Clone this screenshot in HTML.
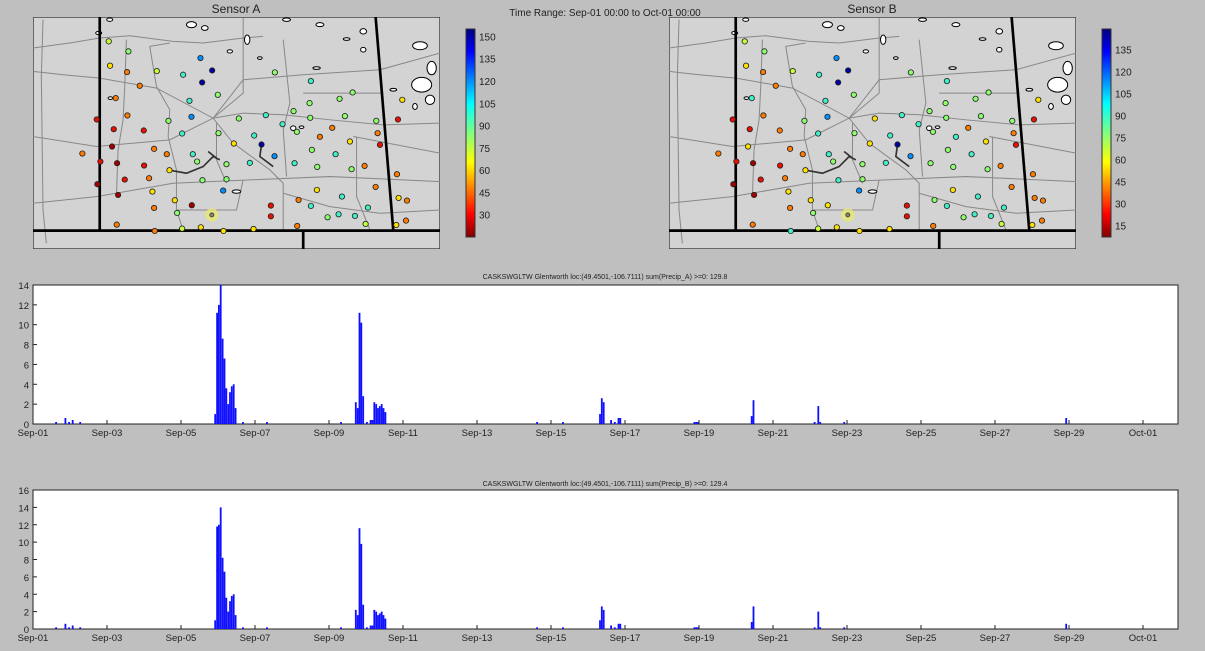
<!DOCTYPE html>
<html><head><meta charset="utf-8">
<style>
body{margin:0;background:#bfbfbf;width:1205px;height:651px;overflow:hidden;font-family:"Liberation Sans",sans-serif;}
svg{position:absolute;left:0;top:0}
</style></head><body>
<svg id="s" width="1205" height="651" xmlns="http://www.w3.org/2000/svg">
<defs>
<linearGradient id="jet" x1="0" y1="1" x2="0" y2="0">
<stop offset="0" stop-color="#800000"/><stop offset="0.11" stop-color="#ff0000"/><stop offset="0.36" stop-color="#ffff00"/><stop offset="0.5" stop-color="#80ff80"/><stop offset="0.64" stop-color="#00ffff"/><stop offset="0.89" stop-color="#0000ff"/><stop offset="1" stop-color="#000080"/>
</linearGradient>
</defs>
<text x="236" y="13" font-size="12" text-anchor="middle" fill="#222">Sensor A</text>
<text x="872" y="13" font-size="12" text-anchor="middle" fill="#222">Sensor B</text>
<text x="605" y="16" font-size="10" text-anchor="middle" fill="#222">Time Range: Sep-01 00:00 to Oct-01 00:00</text>
<text x="605" y="279" font-size="7" text-anchor="middle" fill="#222">CASKSWGLTW Glentworth loc:(49.4501,-106.7111) sum(Precip_A) &gt;=0: 129.8</text>
<text x="605" y="486" font-size="7" text-anchor="middle" fill="#222">CASKSWGLTW Glentworth loc:(49.4501,-106.7111) sum(Precip_B) &gt;=0: 129.4</text>
<g id="g"></g>
</svg>
<script>
var G=document.getElementById('g'),h='';
var C={yg:'#c8ff38',g:'#8cff6c',y:'#ffe000',o:'#ff7a00',r:'#e81000',dr:'#a00000',c:'#40f0c8',lb:'#0090ff',db:'#0000a0',gr:'#8a8a70'};
var dots=[[237,95,'yg'],[296,125,'g'],[241,168,'y'],[292,187,'o'],[381,184,'yg'],[460,195,'c'],[512,145,'lb'],[547,182,'db'],[517,218,'db'],[330,228,'o'],[258,265,'o'],[564,255,'g'],[479,273,'c'],[293,317,'o'],[201,329,'r'],[416,333,'g'],[485,321,'lb'],[627,326,'g'],[708,316,'c'],[735,188,'g'],[843,214,'c'],[968,248,'g'],[929,267,'g'],[839,280,'g'],[791,304,'g'],[841,324,'g'],[945,319,'g'],[1039,333,'g'],[1117,270,'y'],[1104,329,'r'],[252,358,'r'],[342,362,'r'],[457,371,'c'],[566,370,'g'],[673,377,'c'],[758,343,'c'],[801,366,'g'],[907,354,'o'],[870,381,'o'],[1043,370,'o'],[1050,405,'r'],[960,395,'y'],[612,401,'y'],[695,404,'db'],[734,439,'lb'],[247,410,'dr'],[373,417,'o'],[411,433,'o'],[489,433,'c'],[502,455,'g'],[590,463,'g'],[660,459,'c'],[794,460,'c'],[846,420,'g'],[917,433,'c'],[862,471,'g'],[965,478,'g'],[1004,468,'o'],[1101,493,'o'],[158,431,'o'],[212,455,'r'],[262,460,'dr'],[343,467,'r'],[419,481,'y'],[285,509,'r'],[358,505,'o'],[518,511,'g'],[590,508,'g'],[580,542,'lb'],[368,545,'y'],[203,523,'dr'],[265,555,'dr'],[435,571,'y'],[486,586,'dr'],[373,594,'o'],[442,609,'g'],[723,587,'r'],[723,619,'r'],[861,540,'y'],[936,560,'c'],[806,570,'o'],[843,588,'c'],[893,622,'g'],[926,613,'c'],[975,618,'c'],[1014,593,'c'],[1037,531,'o'],[1106,564,'y'],[1131,572,'o'],[1007,642,'yg'],[1099,645,'y'],[1128,632,'o'],[802,648,'o'],[261,644,'o'],[375,663,'o'],[457,656,'yg'],[513,652,'y'],[581,663,'y'],[671,657,'y']];
var roads=[[[10,115],[120,100],[210,85],[300,78],[430,95],[520,100],[640,85],[700,80]],[[10,185],[100,195],[210,205],[380,235],[550,325],[640,310],[760,315],[900,330],[1060,345],[1230,340]],[[10,380],[200,410],[420,390],[550,325],[640,210],[820,195],[1050,180],[1230,130]],[[10,580],[200,560],[430,520],[660,510],[900,500],[1230,515]],[[420,100],[360,110],[380,230],[420,300],[415,380],[440,480],[440,600],[460,660]],[[640,25],[640,250],[550,325],[610,400],[720,480],[760,520],[760,660]],[[760,90],[780,280],[760,360],[770,500]],[[290,90],[285,230],[280,330],[265,420],[260,560]],[[970,380],[1230,430]],[[440,600],[620,600],[640,510]],[[760,550],[900,590],[1050,610],[1230,600]],[[820,250],[1060,250]],[[40,30],[35,200],[40,600],[50,700]],[[980,380],[980,560],[1020,660]],[[560,340],[560,450],[590,520]]];
function map(ox){
 h+='<svg x="'+ox+'" y="17" width="407" height="232" viewBox="10 22 1220 695" preserveAspectRatio="none">';
 h+='<rect x="10" y="22" width="1220" height="695" fill="#d3d3d3" stroke="#333" stroke-width="4"/>';
 roads.forEach(function(r){h+='<polyline fill="none" stroke="#888" stroke-width="3" points="'+r.join(' ')+'"/>';});
 [[485,45,15,9],[525,55,10,7],[207,70,9,5],[240,30,9,5],[652,90,8,14],[600,125,8,5],[690,145,7,4],[770,30,12,5],[870,45,12,6],[1000,65,10,8],[950,88,10,4],[1000,120,8,7],[860,175,11,4],[1090,240,10,4],[1170,108,22,12],[1175,225,30,22],[1200,270,14,14],[1155,290,7,9],[1205,175,14,20],[620,545,13,5],[242,265,7,4],[790,355,8,7],[815,352,7,4]].forEach(function(l){h+='<ellipse cx="'+l[0]+'" cy="'+l[1]+'" rx="'+l[2]+'" ry="'+l[3]+'" fill="#fff" stroke="#000" stroke-width="3"/>';});
 h+='<path d="M420,481 L470,490 L520,470 L550,440 L570,450 M535,425 L560,445 M695,404 L690,440 L730,470" fill="none" stroke="#333" stroke-width="5"/>';
 h+='<path d="M210,22 L210,662 M1037,22 L1090,662 M10,662 L1230,662 M820,662 L820,717" stroke="#000" stroke-width="8" fill="none"/>';
 h+='<circle cx="546" cy="615" r="20" fill="#e8e870" opacity="0.8"/><circle cx="546" cy="615" r="6" fill="#8a8a70" stroke="#333" stroke-width="2.5"/>';
 dots.forEach(function(d,i){var c=C[d[2]]; if(ox>600&&i%7==3)c=C[['g','y','c','o'][i%4]]; h+='<circle cx="'+d[0]+'" cy="'+d[1]+'" r="8" fill="'+c+'" stroke="#222" stroke-width="2.5"/>';});
 h+='</svg>';
}
map(33);map(669);
function cbar(x,lo,hi,labs){
 h+='<rect x="'+x+'" y="29" width="9" height="208" fill="url(#jet)" stroke="#333" stroke-width="1"/>';
 labs.forEach(function(v){var y=237-(v-lo)/(hi-lo)*208;h+='<text x="'+(x+13)+'" y="'+(y+4)+'" font-size="10" fill="#222">'+v+'</text>';});
}
cbar(466,15,155,[150,135,120,105,90,75,60,45,30]);
cbar(1102,7,149,[135,120,105,90,75,60,45,30,15]);
var ev=[[0.6,.2],[0.85,.6],[0.95,.2],[1.05,.4],[1.25,.2],[4.9,1],[4.95,11.2],[5,12],[5.05,14],[5.1,8.6],[5.15,6.6],[5.2,3.6],[5.25,2],[5.3,3.2],[5.35,3.8],[5.4,4],[5.45,1.6],[5.65,.2],[6.3,.2],[8.3,.2],[8.7,2.2],[8.75,1.6],[8.8,11.2],[8.85,10.2],[8.9,2.8],[9.0,.2],[9.1,.4],[9.15,.4],[9.2,2.2],[9.25,2],[9.3,1.6],[9.35,1.8],[9.4,2],[9.45,1.6],[9.5,1.2],[13.6,.2],[14.3,.2],[15.3,1],[15.35,2.6],[15.4,2.2],[15.6,.4],[15.7,.2],[15.8,.6],[15.85,.6],[17.85,.2],[17.9,.2],[17.95,.2],[19.4,.8],[19.45,2.4],[21.1,.2],[21.2,1.8],[21.25,.2],[21.9,.2],[27.9,.6]];
function chart(y0,max,step,ev2){
 var H=139,W=1145,x0=33;
 h+='<rect x="'+x0+'" y="'+y0+'" width="'+W+'" height="'+H+'" fill="#fff" stroke="#222" stroke-width="1"/>';
 ev2.forEach(function(e){var x=x0+e[0]*37,bh=e[1]/max*H;h+='<rect x="'+x.toFixed(1)+'" y="'+(y0+H-bh).toFixed(1)+'" width="1.8" height="'+bh.toFixed(1)+'" fill="#1010ff"/>';});
 for(var v=0;v<=max;v+=step){var y=y0+H-v/max*H;h+='<text x="'+(x0-4)+'" y="'+(y+4)+'" font-size="9.5" text-anchor="end" fill="#222">'+v+'</text><line x1="'+x0+'" x2="'+(x0+4)+'" y1="'+y+'" y2="'+y+'" stroke="#222"/>';}
 for(var d=0;d<=30;d+=2){var x=x0+d*37,lab=d<30?'Sep-'+(d+1<10?'0':'')+(d+1):'Oct-01';h+='<text x="'+x+'" y="'+(y0+H+12)+'" font-size="9.5" text-anchor="middle" fill="#222">'+lab+'</text><line x1="'+x+'" x2="'+x+'" y1="'+(y0+H)+'" y2="'+(y0+H-4)+'" stroke="#222"/>';}
}
chart(285,14,2,ev);
var ev2=ev.map(function(e){var v=e[1];if(e[0]==4.95)v=11.8;if(e[0]==5.1)v=8.2;if(e[0]==8.8)v=11.6;if(e[0]==8.85)v=9.8;if(e[0]==21.2)v=2;if(e[0]==19.45)v=2.6;return [e[0],v];});
chart(490,16,2,ev2);
G.innerHTML=h;
</script>
</body></html>
